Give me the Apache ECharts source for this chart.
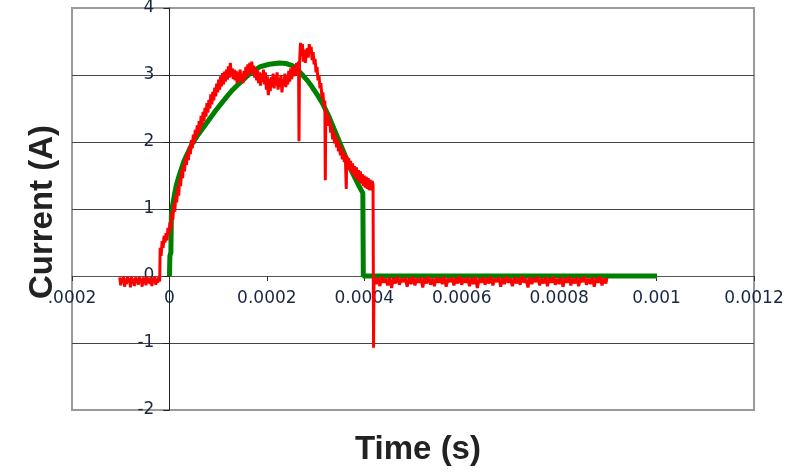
<!DOCTYPE html>
<html>
<head>
<meta charset="utf-8">
<script src="https://cdn.jsdelivr.net/npm/echarts@6/dist/echarts.min.js"></script>
<style>
  html, body { margin: 0; padding: 0; background: #fff; }
  #chart { width: 807px; height: 472px; }
</style>
</head>
<body>
<div id="chart"></div>
<script>
// time in microseconds, current in A
const xTickLabels = ['.0002', '0', '0.0002', '0.0004', '0.0006', '0.0008', '0.001', '0.0012'];

// simulated current (green)
const greenPoints = [
  [0, 0], [1, 0.3], [3, 0.35], [4, 0.9], [6, 1.03], [10, 1.2], [14, 1.35], [20, 1.5],
  [30, 1.72], [47, 1.98], [60, 2.12], [76, 2.28], [95, 2.47], [117, 2.67], [130, 2.78],
  [144, 2.88], [165, 3.02], [185, 3.12], [205, 3.16], [226, 3.18], [240, 3.17], [252, 3.14],
  [263, 3.08], [273, 3.0], [283, 2.92], [293, 2.82], [304, 2.70], [314, 2.58], [328, 2.37],
  [345, 2.07], [359, 1.83], [373, 1.58], [390, 1.33], [397, 1.24],
  [398, 0], [1001, 0]
];

// measured current (red): before trigger, pulse, after
const redBefore = [
  [-102, -0.02], [-100, -0.14], [-98, -0.03], [-96, -0.10], [-94, -0.01], [-92, -0.16],
  [-90, -0.04], [-88, -0.12], [-86, -0.02], [-84, -0.09], [-82, -0.03], [-80, -0.17],
  [-78, -0.01], [-76, -0.11], [-74, -0.04], [-72, -0.15], [-70, -0.02], [-68, -0.10],
  [-66, -0.03], [-64, -0.13], [-62, -0.01], [-60, -0.09], [-58, -0.04], [-56, -0.16],
  [-54, -0.02], [-52, -0.11], [-50, -0.03], [-48, -0.14], [-46, -0.01], [-44, -0.10],
  [-42, -0.04], [-40, -0.12], [-38, -0.02], [-36, -0.15], [-34, -0.03], [-32, -0.09],
  [-30, -0.01], [-28, -0.13], [-26, -0.04], [-24, -0.10], [-22, -0.02], [-20, -0.08]
];

const redPulse = [
  [-19, 0.42], [-17, 0.30], [-15, 0.52], [-13, 0.42], [-11, 0.60], [-9, 0.50], [-7, 0.64],
  [-5, 0.53], [-3, 0.72], [-1, 0.62], [1, 0.80], [3, 0.70], [5, 0.95], [7, 0.84], [9, 1.08],
  [11, 0.96], [13, 1.21], [15, 1.10], [17, 1.33], [19, 1.20], [21, 1.45], [23, 1.34],
  [25, 1.58], [27, 1.46], [29, 1.67], [31, 1.56], [33, 1.77], [35, 1.66], [37, 1.85],
  [39, 1.73], [41, 1.93], [43, 1.82], [45, 2.03], [47, 1.91], [49, 2.11], [51, 1.98],
  [53, 2.18], [55, 2.06], [57, 2.25], [59, 2.12], [61, 2.31], [63, 2.18], [65, 2.39],
  [67, 2.25], [69, 2.45], [71, 2.31], [73, 2.51], [75, 2.38], [77, 2.58], [79, 2.44],
  [81, 2.63], [83, 2.50], [85, 2.71], [87, 2.56], [89, 2.75], [91, 2.62], [93, 2.81],
  [95, 2.68], [97, 2.87], [99, 2.74], [101, 2.93], [103, 2.78], [105, 2.98], [107, 2.83],
  [109, 3.03], [111, 2.86], [113, 3.05], [115, 2.90], [117, 3.08], [119, 2.93], [121, 3.13],
  [123, 2.96], [125, 3.18], [127, 2.98], [129, 3.10], [131, 2.94], [133, 3.08], [135, 2.92],
  [137, 3.06], [139, 2.88], [141, 3.04], [143, 2.90], [145, 3.08], [147, 2.93], [149, 3.02],
  [151, 2.88], [153, 3.06], [155, 2.94], [157, 3.12], [159, 2.98], [161, 3.16], [163, 3.00],
  [165, 3.18], [167, 3.03], [169, 3.20], [171, 3.04], [173, 3.14], [175, 2.96], [177, 3.10],
  [179, 2.92], [181, 3.07], [183, 2.88], [185, 3.04], [187, 2.84], [189, 3.02], [191, 2.90],
  [193, 3.08], [195, 2.86], [197, 3.04], [199, 2.78], [201, 2.98], [203, 2.70], [205, 2.94],
  [207, 2.76], [209, 2.97], [211, 2.82], [213, 3.02], [215, 2.80], [217, 2.98], [219, 2.84],
  [221, 3.04], [223, 2.78], [225, 2.96], [227, 2.82], [229, 3.00], [231, 2.74], [233, 2.94],
  [235, 2.84], [237, 3.02], [239, 2.82], [241, 2.98], [243, 2.86], [245, 3.06], [247, 2.90],
  [249, 3.10], [251, 2.94], [253, 3.12], [255, 2.98], [257, 3.14], [259, 3.00], [261, 3.18],
  [263, 3.02], [265, 3.20], [266, 2.01], [267, 3.15], [269, 3.48], [271, 3.28], [273, 3.46],
  [275, 3.20], [277, 3.38], [279, 3.18], [281, 3.32], [283, 3.40], [285, 3.26], [287, 3.46],
  [289, 3.32], [291, 3.42], [293, 3.22], [295, 3.34], [297, 3.16], [299, 3.24], [301, 3.04],
  [303, 3.12], [305, 2.92], [307, 3.00], [309, 2.80], [311, 2.88], [313, 2.66], [315, 2.74],
  [317, 2.55], [319, 2.62], [320, 1.43], [321, 2.47], [323, 2.32], [325, 2.42], [327, 2.24],
  [329, 2.34], [331, 2.14], [333, 2.24], [335, 2.04], [337, 2.16], [339, 1.98], [341, 2.10],
  [343, 1.92], [345, 2.04], [347, 1.86], [349, 1.97], [351, 1.80], [353, 1.92], [355, 1.74],
  [357, 1.86], [359, 1.70], [361, 1.82], [363, 1.30], [364, 1.78], [366, 1.62], [368, 1.76],
  [370, 1.58], [372, 1.72], [374, 1.54], [376, 1.68], [378, 1.50], [380, 1.64], [382, 1.46],
  [384, 1.62], [386, 1.44], [388, 1.58], [390, 1.40], [392, 1.56], [394, 1.38], [396, 1.52],
  [398, 1.34], [400, 1.50], [402, 1.32], [404, 1.48], [406, 1.30], [408, 1.46], [410, 1.28],
  [412, 1.44], [414, 1.28], [416, 1.42], [418, 1.36], [419, -1.07]
];

const redAfter = [
  [420, -0.02], [424, -0.12], [428, -0.03], [432, -0.15], [436, -0.01], [440, -0.10],
  [444, -0.04], [448, -0.14], [452, -0.02], [456, -0.18], [460, -0.03], [464, -0.11],
  [468, -0.01], [472, -0.13], [476, -0.04], [480, -0.09], [484, -0.02], [488, -0.16],
  [492, -0.03], [496, -0.12], [500, -0.01], [504, -0.14], [508, -0.04], [512, -0.10],
  [516, -0.02], [520, -0.17], [524, -0.03], [528, -0.11], [532, -0.01], [536, -0.13],
  [540, -0.04], [544, -0.15], [548, -0.02], [552, -0.10], [556, -0.03], [560, -0.12],
  [564, -0.01], [568, -0.16], [572, -0.04], [576, -0.09], [580, -0.02], [584, -0.14],
  [588, -0.03], [592, -0.11], [596, 0.00], [600, -0.13], [604, -0.04], [608, -0.10],
  [612, -0.02], [616, -0.15], [620, -0.03], [624, -0.12], [628, -0.01], [632, -0.18],
  [636, -0.04], [640, -0.10], [644, -0.02], [648, -0.13], [652, -0.03], [656, -0.11],
  [660, -0.01], [664, -0.14], [668, -0.04], [672, -0.09], [676, -0.02], [680, -0.16],
  [684, -0.03], [688, -0.12], [692, -0.01], [696, -0.10], [700, -0.04], [704, -0.15],
  [708, -0.02], [712, -0.11], [716, -0.03], [720, -0.13], [724, 0.00], [728, -0.10],
  [732, -0.04], [736, -0.17], [740, -0.02], [744, -0.12], [748, -0.03], [752, -0.09],
  [756, -0.01], [760, -0.14], [764, -0.04], [768, -0.11], [772, -0.02], [776, -0.15],
  [780, -0.03], [784, -0.10], [788, -0.01], [792, -0.13], [796, -0.04], [800, -0.12],
  [804, -0.02], [808, -0.16], [812, -0.03], [816, -0.10], [820, -0.01], [824, -0.14],
  [828, -0.04], [832, -0.11], [836, -0.02], [840, -0.15], [844, -0.03], [848, -0.09],
  [852, -0.01], [856, -0.13], [860, -0.04], [864, -0.12], [868, -0.02], [872, -0.16],
  [876, -0.03], [880, -0.10], [884, -0.01], [888, -0.14], [892, -0.04], [896, -0.11],
  [898, -0.03]
];

const redPoints = redBefore.concat(redPulse, redAfter);

const tickFont = { fontFamily: 'DejaVu Sans', fontSize: 17, color: '#1a2740' };
const titleFont = 'bold 33px "Liberation Sans", Arial, sans-serif';

const chart = echarts.init(document.getElementById('chart'));
chart.setOption({
  animation: false,
  backgroundColor: '#fff',
  grid: {
    left: 72, right: 53, top: 8, bottom: 62,
    show: true, borderColor: '#9a9a9a', borderWidth: 2,
    outerBoundsMode: 'none'
  },
  // axes sit on the zero lines: x axis at I = 0, y axis at t = 0
  xAxis: {
    type: 'value',
    min: -200, max: 1200, interval: 200,
    position: 'bottom',
    offset: -134,
    axisLine: { onZero: false, lineStyle: { color: '#555', width: 1 } },
    axisTick: { show: true, length: 5, lineStyle: { color: '#333' } },
    axisLabel: Object.assign({ margin: 14, formatter: (v, i) => xTickLabels[i] }, tickFont),
    splitLine: { show: false }
  },
  yAxis: {
    type: 'value',
    min: -2, max: 4, interval: 1,
    position: 'left',
    offset: -97.4,
    axisLine: { onZero: false, lineStyle: { color: '#222', width: 1 } },
    axisTick: { show: true, length: 6, lineStyle: { color: '#222' } },
    axisLabel: Object.assign({ margin: 15 }, tickFont),
    splitLine: {
      show: true,
      lineStyle: { color: ['#9a9a9a', '#444', '#444', '#444', '#444', '#444', '#9a9a9a'], width: 1 }
    }
  },
  series: [
    {
      name: 'green',
      type: 'line',
      data: greenPoints,
      symbol: 'none',
      z: 2,
      lineStyle: { color: '#008000', width: 5 }
    },
    {
      name: 'red',
      type: 'line',
      data: redPoints,
      symbol: 'none',
      z: 3,
      lineStyle: { color: '#ff0000', width: 3 }
    }
  ],
  graphic: [
    {
      type: 'text', x: 418, y: 450,
      style: { text: 'Time (s)', font: titleFont, fill: '#222', textAlign: 'center', textVerticalAlign: 'middle' }
    },
    {
      type: 'text', x: 43, y: 212, rotation: Math.PI / 2,
      style: { text: 'Current (A)', font: titleFont, fill: '#222', textAlign: 'center', textVerticalAlign: 'middle' }
    }
  ]
});
</script>
</body>
</html>
